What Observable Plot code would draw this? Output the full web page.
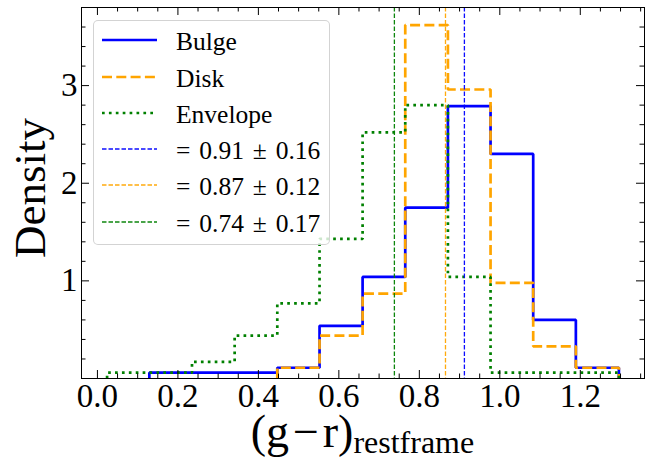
<!DOCTYPE html>
<html><head><meta charset="utf-8">
<script src="https://cdn.jsdelivr.net/npm/d3@7"></script>
<script src="https://cdn.jsdelivr.net/npm/@observablehq/plot@0.6"></script>
<style>
body{margin:0;background:#fff;}
#wrap{position:relative;width:662px;height:460px;font-family:"Liberation Serif","DejaVu Serif",serif;}
#legend{position:absolute;left:93px;top:20px;width:237px;height:225px;box-sizing:border-box;border:1px solid rgba(200,200,200,0.8);border-radius:5px;background:rgba(255,255,255,0.8);}
#legend .row{position:absolute;left:0;width:100%;height:30px;}
#legend svg{position:absolute;left:8px;top:0;}
#legend span{position:absolute;left:82px;font-size:25.5px;line-height:30px;white-space:nowrap;color:#000;}
</style></head><body><div id="wrap"></div>
<script>
// ---- data ----
const binEdges = [0.024, 0.129, 0.235, 0.341, 0.447, 0.552, 0.659, 0.765, 0.871, 0.977, 1.083, 1.189, 1.296];
const bulgeStart = 1;
const bulgeDensity = [0.06, 0.06, 0.06, 0.11, 0.54, 1.04, 1.75, 2.79, 2.30, 0.60, 0.11];
const diskStart = 4;
const diskDensity = [0.11, 0.44, 0.87, 3.62, 2.96, 0.98, 0.33, 0.11];
const envelopeStart = 0;
const envelopeDensity = [0.06, 0.06, 0.17, 0.44, 0.77, 1.43, 2.52, 2.80, 1.04, 0.06, 0.06, 0.06];
const seriesNames = ["Bulge", "Disk", "Envelope"];
const medianValues = [0.912, 0.865, 0.738];
const medianLabels = ["= 0.91 ± 0.16", "= 0.87 ± 0.12", "= 0.74 ± 0.17"];
const xTicks = [0.0, 0.2, 0.4, 0.6, 0.8, 1.0, 1.2];
const yTicks = [1, 2, 3];
const xLabelMain = "(g\u200a\u2212\u200ar)";
const xLabelSub = "restframe";
const yLabel = "Density";

// ---- styles ----
const colors = ["#0000ff", "#ffa500", "#008000"];
const dashes = [null, "10,4.3", "2.7,4.2"];
const vlineDash = "4.5,2";

const W = 662, Hgt = 460;
const mL = 81, mR = 18, mT = 7, mB = 82;
const PW = W - mL - mR, PH = Hgt - mT - mB;
const majLen = 8, minLen = 4.5;

function stepPoints(name, start, vals) {
  const pts = [{name, x: binEdges[start], y: 0}];
  vals.forEach((v, i) => pts.push({name, x: binEdges[start + i], y: v}));
  pts.push({name, x: binEdges[start + vals.length], y: 0});
  return pts;
}
const series = [
  stepPoints(seriesNames[0], bulgeStart, bulgeDensity),
  stepPoints(seriesNames[1], diskStart, diskDensity),
  stepPoints(seriesNames[2], envelopeStart, envelopeDensity)
];

const xMinor = d3.range(1, 28).map(i => +(i * 0.05).toFixed(2)).filter(v => Math.abs(v / 0.2 - Math.round(v / 0.2)) > 1e-6);
const yMinor = d3.range(1, 19).map(i => +(i * 0.2).toFixed(2)).filter(v => Math.abs(v - Math.round(v)) > 1e-6);

const marks = [];
series.forEach((pts, i) => {
  marks.push(Plot.line(pts, {x: "x", y: "y", curve: "step-after", stroke: colors[i], strokeWidth: 2.7,
    strokeDasharray: dashes[i] || undefined, strokeLinecap: "butt", strokeLinejoin: "miter"}));
});
medianValues.forEach((m, i) => {
  marks.push(Plot.ruleX([m], {stroke: colors[i], strokeWidth: 1.3, strokeOpacity: 0.95, strokeDasharray: vlineDash}));
});
// inward ticks on all four sides
marks.push(
  Plot.tickX(xTicks, {x: d => d, insetTop: PH - majLen, stroke: "black"}),
  Plot.tickX(xTicks, {x: d => d, insetBottom: PH - majLen, stroke: "black"}),
  Plot.tickX(xMinor, {x: d => d, insetTop: PH - minLen, stroke: "black"}),
  Plot.tickX(xMinor, {x: d => d, insetBottom: PH - minLen, stroke: "black"}),
  Plot.tickY(yTicks, {y: d => d, insetRight: PW - majLen, stroke: "black"}),
  Plot.tickY(yTicks, {y: d => d, insetLeft: PW - majLen, stroke: "black"}),
  Plot.tickY(yMinor, {y: d => d, insetRight: PW - minLen, stroke: "black"}),
  Plot.tickY(yMinor, {y: d => d, insetLeft: PW - minLen, stroke: "black"}),
  Plot.axisX(xTicks, {tickSize: 0, tickPadding: 5, tickFormat: d3.format(".1f"), fontSize: 33, label: null}),
  Plot.axisY(yTicks, {tickSize: 0, tickPadding: 4, tickFormat: d3.format("d"), fontSize: 33, label: null}),
  Plot.frame({stroke: "black", strokeWidth: 1})
);

const chart = Plot.plot({
  width: W, height: Hgt,
  marginLeft: mL, marginRight: mR, marginTop: mT, marginBottom: mB,
  x: {domain: [-0.0396, 1.3596]},
  y: {domain: [0, 3.8]},
  style: {fontFamily: '"Liberation Serif", "DejaVu Serif", serif', fontSize: "33px", background: "white", color: "black"},
  marks
});

const svg = d3.select(chart);
const xl = svg.append("text").attr("x", mL + PW / 2).attr("y", 447).attr("text-anchor", "middle")
  .style("font-size", "46px").attr("fill", "black");
xl.append("tspan").text(xLabelMain);
xl.append("tspan").attr("dy", 6).style("font-size", "32px").text(xLabelSub);
svg.append("text").attr("transform", `translate(45,188) rotate(-90)`).attr("text-anchor", "middle")
  .style("font-size", "45px").attr("fill", "black").text(yLabel);

const wrap = document.getElementById("wrap");
wrap.appendChild(chart);
chart.style.position = "absolute"; chart.style.left = "0"; chart.style.top = "0";

// legend
const legend = document.createElement("div");
legend.id = "legend";
const rowCenters = [19, 56, 92, 128, 164, 201];
const entries = seriesNames.map((n, i) => ({label: n, color: colors[i], dash: dashes[i], w: 2.7, op: 1, ws: 0}))
  .concat(medianLabels.map((l, i) => ({label: l, color: colors[i], dash: vlineDash, w: 1.3, op: 0.95, ws: 2.5})));
entries.forEach((e, i) => {
  const row = document.createElement("div");
  row.className = "row";
  row.style.top = (rowCenters[i] - 15) + "px";
  row.innerHTML = `<svg width="56" height="30"><line x1="0" x2="55" y1="15" y2="15" stroke="${e.color}" stroke-opacity="${e.op}" stroke-width="${e.w}" ${e.dash ? `stroke-dasharray="${e.dash}"` : ""}/></svg><span style="top:2px;word-spacing:${e.ws}px">${e.label}</span>`;
  legend.appendChild(row);
});
wrap.appendChild(legend);
</script>
</body></html>
